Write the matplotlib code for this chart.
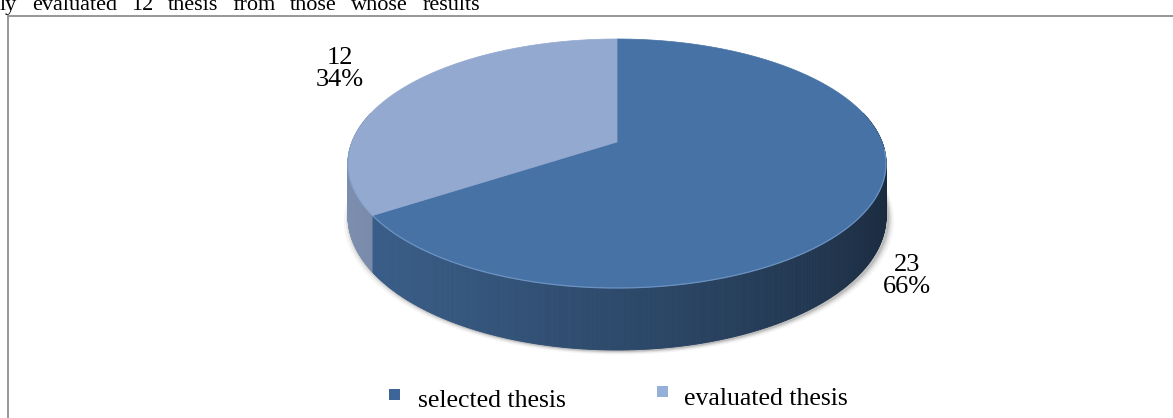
import numpy as np
import matplotlib
matplotlib.use("Agg")
import matplotlib.pyplot as plt
from matplotlib.patches import Polygon, Rectangle
from matplotlib.collections import PolyCollection
from matplotlib.colors import to_rgb

# ---------------- data ----------------
categories = ["selected thesis", "evaluated thesis"]
values = [23, 12]
top_colors = ["#4672a6", "#94a9cf"]
legend_colors = ["#3d6598", "#95b0d8"]
header_words = ["ly", "evaluated", "12", "thesis", "from", "those", "whose", "results"]

W, H = 1173, 418
plt.rcParams['font.family'] = ['Liberation Serif', 'DejaVu Serif']
fig = plt.figure(figsize=(W / 100, H / 100), dpi=100)
ax = fig.add_axes([0, 0, 1, 1])
ax.set_xlim(0, W)
ax.set_ylim(H, 0)
ax.axis('off')

# ---------------- projection of the 3-D pie ----------------
CX, CY = 617, 142
A, B, P = 265, 120.8, 0.1727
D = 51.3


def proj(theta, z=0.0):
    X = np.cos(theta)
    Y = np.sin(theta)
    w = 1 + P * Y
    return CX + A * X / w, CY - B * Y / w + D * z / w


total = float(sum(values))
starts, ends = [], []
s = np.pi / 2
for v in values:
    e = s - 2 * np.pi * v / total
    starts.append(s)
    ends.append(e)
    s = e


def slice_of(theta):
    t = (np.pi / 2 - theta) % (2 * np.pi)  # clockwise distance from 12 o'clock
    acc = 0.0
    for i, v in enumerate(values):
        acc += 2 * np.pi * v / total
        if t < acc:
            return i
    return len(values) - 1


# ---------------- shadow ----------------
tt = np.linspace(0, 2 * np.pi, 400)
for k, a in zip([6, 4, 2.5, 1.2], [0.04, 0.06, 0.08, 0.10]):
    xs, ys = proj(tt, 1.0)
    ax.add_patch(Polygon(np.column_stack([(xs - CX) * (1 + k / 270) + CX + 2,
                                          ys + k * 0.6 + 1]),
                         closed=True, facecolor='black', alpha=a, edgecolor='none', zorder=1))

# ---------------- side walls ----------------
light = np.array([-0.98, -0.196])
N = 900
th = np.linspace(-np.pi, np.pi, N + 1)
polys, cols, keys = [], [], []
for i in range(N):
    t0, t1 = th[i], th[i + 1]
    tm = 0.5 * (t0 + t1)
    if np.sin(tm) > 0.25:
        continue
    x0, y0 = proj(t0, 0)
    x1, y1 = proj(t1, 0)
    x0b, y0b = proj(t0, 1)
    x1b, y1b = proj(t1, 1)
    polys.append([(x0, y0), (x1, y1), (x1b, y1b), (x0b, y0b)])
    dot = np.cos(tm) * light[0] + np.sin(tm) * light[1]
    f = 0.60 + 0.24 * dot
    base = np.array(to_rgb(top_colors[slice_of(tm)]))
    cols.append(np.clip(base * f, 0, 1))
    keys.append(-np.sin(tm))
order = np.argsort(keys)
pc = PolyCollection([polys[j] for j in order], facecolors=[cols[j] for j in order],
                    edgecolors=[cols[j] for j in order], linewidths=0.6, zorder=2)
ax.add_collection(pc)

# ---------------- top faces ----------------
for i in range(len(values)):
    ts = np.linspace(starts[i], ends[i], 300)
    xs, ys = proj(ts, 0)
    pts = np.column_stack([np.r_[CX, xs], np.r_[CY, ys]])
    ax.add_patch(Polygon(pts, closed=True, facecolor=top_colors[i],
                         edgecolor=top_colors[i], linewidth=0.5, zorder=3))

# rim highlight along the front edge
tf = np.linspace(np.pi * 1.02, np.pi * 1.98, 300)
xs, ys = proj(tf, 0)
ax.plot(xs, ys, color='#7fa3d0', lw=0.9, alpha=0.7, zorder=4)

# ---------------- data labels ----------------
label_pos = [(907, 276), (340, 69)]
for i, v in enumerate(values):
    pct = round(100 * v / total)
    ax.text(label_pos[i][0], label_pos[i][1], f"{v}\n{pct}%", ha='center', va='center',
            fontsize=19, linespacing=1.05, color='black', zorder=5)

# ---------------- legend ----------------
leg_sq = [(389, 389), (657, 386)]
leg_tx = [(418, 407), (684, 405)]
for i, name in enumerate(categories):
    ax.add_patch(Rectangle(leg_sq[i], 11, 11, facecolor=legend_colors[i], edgecolor='none', zorder=5))
    ax.text(leg_tx[i][0], leg_tx[i][1], name, ha='left', va='baseline', fontsize=18.5, color='black')

# ---------------- frame ----------------
ax.plot([7.5, 7.5, W], [H, 16, 16], color='#8f8f8f', lw=1.3, solid_joinstyle='miter', zorder=6)

# ---------------- cropped header text (justified line, cut off at the top as in the source) ----------------
line_left, line_right = 0, 480
txts = [ax.text(0, 10, wrd, ha='left', va='baseline', fontsize=16, color='black')
        for wrd in header_words]
fig.canvas.draw()
r = fig.canvas.get_renderer()
widths = [t.get_window_extent(r).width for t in txts]
gap = (line_right - line_left - sum(widths)) / (len(widths) - 1)
x = line_left
for t, wdt in zip(txts, widths):
    t.set_x(x)
    x += wdt + gap

fig.savefig("out.png", dpi=100)
